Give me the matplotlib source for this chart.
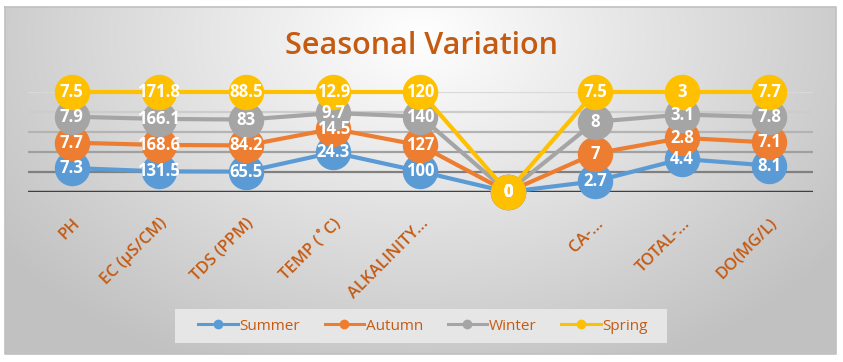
"""
Seasonal variation - 100% stacked line chart (Excel style)
"""
import matplotlib.pyplot as plt
import numpy as np

categories = ["PH", "EC (µS/CM)", "TDS (PPM)", "TEMP (˚C)", "ALKALINITY...", "",
              "CA-...", "TOTAL-...", "DO(MG/L)"]
seasons = ["Summer", "Autumn", "Winter", "Spring"]
summer = [7.3, 131.5, 65.5, 24.3, 100, 0, 2.7, 4.4, 8.1]
autumn = [7.7, 168.6, 84.2, 14.5, 127, 0, 7, 2.8, 7.1]
winter = [7.9, 166.1, 83, 9.7, 140, 0, 8, 3.1, 7.8]
spring = [7.5, 171.8, 88.5, 12.9, 120, 0, 7.5, 3, 7.7]

colors = ["#5B9BD5", "#ED7D31", "#A5A5A5", "#FFC000"]
text_orange = "#C55A11"

W, H = 843, 362
fig = plt.figure(figsize=(W / 100, H / 100), dpi=100)

# background with radial gradient
bg = fig.add_axes([0, 0, 1, 1])
bg.set_xlim(0, W)
bg.set_ylim(H, 0)
bg.axis("off")
yy, xx = np.mgrid[0:H, 0:W]
r = np.sqrt(((xx - 420) / 520) ** 2 + ((yy - 30) / 380) ** 2)
shade = np.clip(1.0 - 0.24 * r, 0.76, 1.0)
img = np.dstack([shade, shade, shade])
bg.imshow(img, extent=(5, 836, 354, 7), aspect="auto", zorder=0)
bg.plot([5, 836, 836, 5, 5], [7, 7, 354, 354, 7], color="#c0c0c0", lw=1.2, zorder=1)
# legend box
bg.add_patch(plt.Rectangle((175, 309), 492, 34, facecolor="#e6e6e6",
                           edgecolor="none", zorder=1))

ax = fig.add_axes([28 / W, (H - 192) / H, 785 / W, 100 / H])
ax.patch.set_alpha(0)
for s in ax.spines.values():
    s.set_visible(False)

# 100% stacked: each point sits at its cumulative share of the category total
data = np.array([summer, autumn, winter, spring], dtype=float)
totals = data.sum(axis=0)
totals[totals == 0] = 1
cum = np.cumsum(data, axis=0) / totals

x = np.arange(len(categories))
ax.set_xlim(-0.5, len(categories) - 0.5)
ax.set_ylim(0, 1)

grid_cols = ["#808080", "#a0a0a0", "#b4b4b4", "#cccccc", "#d9d9d9"]
for i, g in enumerate([0.2, 0.4, 0.6, 0.8, 1.0]):
    ax.axhline(g, color=grid_cols[i], lw=1.6, zorder=1)
ax.axhline(0, color="#404040", lw=2.5, zorder=1.5)

for i, name in enumerate(seasons):
    ax.plot(x, cum[i], color=colors[i], lw=3, marker="o", markersize=24.5,
            label=name, zorder=3 + i, clip_on=False)
    for xi, yi, v in zip(x, cum[i], data[i]):
        ax.text(xi, yi, f"{v:g}", ha="center", va="center", color="white",
                fontsize=12, fontweight="bold", family="Open Sans",
                zorder=10 + i, clip_on=False)

ax.set_yticks([])
ax.set_xticks(x)
ax.set_xticklabels(categories, rotation=45, ha="right", rotation_mode="anchor",
                   color=text_orange, fontsize=12, fontweight="semibold",
                   family="Open Sans")
ax.tick_params(axis="x", length=0, pad=17)

fig.text(0.5, 0.873, "Seasonal Variation", ha="center", va="center",
         color=text_orange, fontsize=22, fontweight="semibold", family="Open Sans")

handles = [plt.Line2D([0], [0], color=c, lw=2.2, marker="o", markersize=6)
           for c in colors]
leg = fig.legend(handles, seasons, loc="center", bbox_to_anchor=(423 / W, (H - 326) / H),
                 ncol=4, frameon=False, handlelength=2.6, handletextpad=0.1,
                 columnspacing=1.6, prop={"family": "Open Sans", "size": 11})
for t in leg.get_texts():
    t.set_color(text_orange)

fig.savefig("out.png", dpi=100)
